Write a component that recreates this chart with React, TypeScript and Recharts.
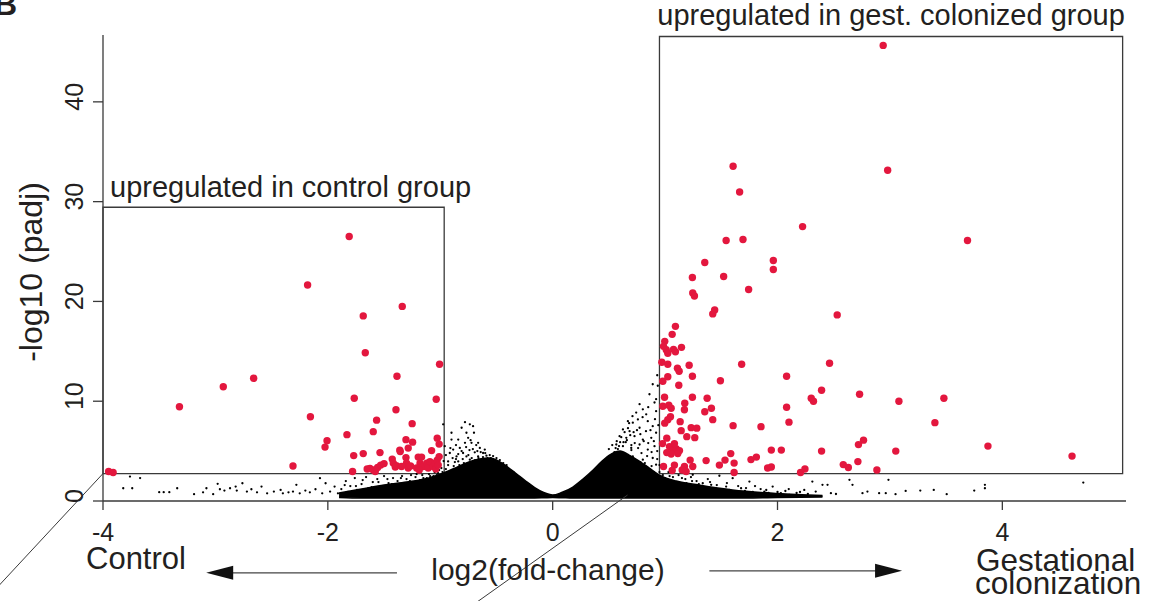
import React from 'react'
import {
  ComposedChart,
  Scatter,
  Area,
  XAxis,
  YAxis,
  ReferenceArea,
  ReferenceLine,
} from 'recharts'

const xTicks = [-4, -2, 0, 2, 4]
const yTicks = [0, 10, 20, 30, 40]

// significant genes, upregulated in control (log2FC, -log10 padj)
const upControl: [number, number][] = [
  [-3.95, 2.95], [-3.91, 2.85], [-3.32, 9.45], [-2.93, 11.45], [-2.66, 12.3], [-2.31, 3.5],
  [-2.18, 21.65], [-2.155, 8.45], [-2.025, 5.4], [-2.007, 6.05], [-1.83, 6.65], [-1.81, 26.5],
  [-1.78, 2.95], [-1.77, 4.55], [-1.765, 10.3], [-1.685, 18.55], [-1.685, 4.75], [-1.667, 14.85],
  [-1.65, 3.2], [-1.625, 3.25], [-1.596, 3.1], [-1.578, 2.95], [-1.557, 3.35], [-1.53, 3.6],
  [-1.5, 3.75], [-1.596, 6.95], [-1.566, 8.1], [-1.536, 4.85], [-1.427, 4.2], [-1.418, 3.8],
  [-1.4, 3.4], [-1.39, 3.55], [-1.394, 9.15], [-1.385, 12.5], [-1.356, 4.95], [-1.338, 19.5],
  [-1.305, 6.15], [-1.285, 5.3], [-1.305, 4.35], [-1.3, 3.8], [-1.285, 3.3], [-1.264, 3.5],
  [-1.25, 7.75], [-1.246, 5.9], [-1.196, 4.4], [-1.166, 4.4], [-1.18, 3.8], [-1.21, 3.3],
  [-1.152, 3.45], [-1.187, 3.1], [-1.12, 3.8], [-1.107, 3.3], [-1.092, 3.95], [-1.077, 5.05],
  [-1.063, 3.45], [-1.048, 3.8], [-1.039, 3.2], [-1.027, 4.1], [-1.018, 3.6], [-1.01, 4.45],
  [-1.036, 10.2], [-1.027, 6.3], [-1.01, 5.7], [-1.006, 13.7], [-1.36, 5.1], [-1.344, 3.45],
]

// significant genes, upregulated in gestational colonization
const upColonized: [number, number][] = [
  [2.94, 45.66], [1.605, 33.55], [2.98, 33.15], [1.663, 30.97], [2.223, 27.5], [1.543, 26.1],
  [1.693, 26.2], [3.69, 26.1], [1.353, 23.9], [1.963, 24.1], [1.963, 23.2], [1.243, 22.4],
  [1.521, 22.5], [1.246, 20.85], [1.261, 20.55], [1.743, 21.2], [1.441, 19.15], [1.424, 18.75],
  [2.531, 18.65], [1.092, 17.5], [1.063, 16.7], [0.997, 16.0], [0.986, 15.5], [1.01, 15.15],
  [1.024, 14.8], [1.075, 15.2], [1.092, 14.95], [1.146, 15.4], [0.971, 13.9], [1.024, 13.7],
  [1.214, 13.6], [1.681, 13.7], [2.463, 13.8], [1.11, 13.3], [1.125, 13.0], [1.024, 12.45],
  [1.243, 12.5], [2.081, 12.5], [0.98, 12.0], [1.492, 12.05], [1.122, 11.6], [2.392, 11.1],
  [2.73, 10.7], [0.995, 10.4], [1.243, 10.4], [1.374, 10.3], [2.3, 10.3], [2.32, 10.0],
  [3.48, 10.3], [3.08, 10.0], [0.98, 9.5], [1.033, 9.6], [1.054, 9.3], [1.175, 9.8],
  [1.172, 9.15], [1.412, 9.3], [1.353, 8.95], [2.081, 9.4], [1.048, 8.45], [1.024, 8.15],
  [0.997, 7.8], [1.424, 8.15], [1.134, 7.95], [2.102, 7.9], [3.4, 7.85], [1.605, 7.55],
  [1.853, 7.45], [1.232, 7.35], [1.282, 7.3], [1.143, 7.05], [1.193, 6.45], [1.264, 6.35],
  [1.015, 6.3], [0.977, 5.75], [2.765, 6.1], [2.72, 5.65], [3.872, 5.5], [1.039, 5.45],
  [1.069, 5.1], [1.098, 5.25], [1.128, 5.05], [1.083, 5.75], [1.113, 4.75], [1.015, 4.85],
  [1.054, 4.7], [2.392, 5.0], [3.052, 5.0], [4.62, 4.5], [1.945, 5.1], [2.034, 5.1],
  [1.223, 4.1], [1.365, 4.05], [1.584, 4.75], [1.533, 4.1], [1.614, 3.8], [1.764, 4.15],
  [1.812, 4.4], [1.483, 3.6], [2.715, 3.95], [2.585, 3.65], [2.63, 3.35], [0.986, 3.45],
  [1.083, 3.6], [1.172, 3.45], [1.246, 3.45], [1.063, 3.05], [1.152, 3.1], [1.187, 2.95],
  [1.912, 3.3], [1.945, 3.4], [2.205, 2.85], [2.244, 3.2], [1.614, 2.85], [2.884, 3.1],
]

// non-significant genes: low band on the left
const nsLeft: [number, number][] = [
  [-3.76, 2.45], [-3.67, 2.3], [-3.82, 1.28], [-3.74, 1.28], [-3.5, 0.88], [-3.46, 0.88],
  [-3.41, 0.88], [-3.34, 1.28], [-3.19, 0.68], [-3.11, 0.87], [-3.08, 1.28], [-3.02, 0.68],
  [-2.98, 1.72], [-2.96, 1.18], [-2.92, 1.04], [-2.87, 1.28], [-2.82, 1.45], [-2.81, 1.04],
  [-2.76, 1.78], [-2.72, 0.94], [-2.68, 1.18], [-2.63, 0.87], [-2.59, 1.45], [-2.54, 0.77],
  [-2.48, 0.94], [-2.42, 1.11], [-2.4, 0.77], [-2.35, 0.87], [-2.31, 0.94], [-2.28, 1.62],
  [-2.25, 0.77], [-2.2, 1.04], [-2.16, 0.87], [-2.11, 1.18], [-2.07, 2.29], [-2.05, 0.77],
  [-2.02, 1.78], [-1.98, 0.94], [-1.94, 1.45], [-1.91, 0.77], [-1.88, 1.2], [-1.86, 0.6],
  [-1.84, 2.0], [-1.82, 0.9], [-1.8, 1.5], [-1.78, 0.7], [-1.76, 2.3], [-1.74, 1.1],
  [-1.72, 0.5], [-1.7, 1.7], [-1.68, 0.9], [-1.66, 2.4], [-1.64, 1.3], [-1.62, 0.6],
  [-1.6, 1.9], [-1.58, 1.0], [-1.56, 2.2], [-1.54, 0.7], [-1.52, 1.5], [-1.5, 2.5],
  [-1.48, 1.2], [-1.46, 1.8], [-1.44, 0.8], [-1.42, 2.3], [-1.4, 1.5], [-1.38, 2.0],
  [-1.36, 1.1], [-1.34, 2.5], [-1.32, 1.7], [-1.3, 2.2], [-1.28, 1.4], [-1.26, 2.6],
  [-1.24, 1.9], [-1.22, 2.4], [-1.2, 1.6], [-1.18, 2.1], [-1.16, 2.6], [-1.14, 1.8],
  [-1.12, 2.3], [-1.1, 2.7], [-1.08, 2.0], [-1.06, 2.5], [-1.04, 2.2], [-1.02, 2.8],
  [-1.0, 2.4], [-0.98, 2.6], [-1.85, 1.6], [-1.75, 1.5], [-1.69, 2.1], [-1.61, 1.4],
  [-1.55, 1.9], [-1.47, 2.2], [-1.43, 1.7], [-1.35, 2.3], [-1.27, 2.0], [-1.21, 2.7],
  [-1.15, 2.3], [-1.09, 2.5], [-1.05, 2.9], [-1.03, 2.6], [-1.01, 3.1],
]

// non-significant genes: scattered dots above the left hump
const nsHumpLeft: [number, number][] = [
  [-0.78, 7.9], [-0.737, 7.68], [-0.81, 7.34], [-0.708, 7.5], [-0.9, 6.84], [-0.767, 6.84],
  [-0.7, 6.84], [-0.84, 6.16], [-0.752, 6.33], [-0.78, 5.83], [-0.722, 5.83], [-0.663, 5.83],
  [-0.826, 5.32], [-0.885, 5.15], [-0.648, 5.32], [-0.604, 5.15], [-0.915, 4.81], [-0.797, 4.81],
  [-0.693, 4.88], [-0.619, 4.81], [-0.855, 4.47], [-0.767, 4.47], [-0.663, 4.47], [-0.589, 4.54],
  [-0.93, 3.97], [-0.84, 3.97], [-0.737, 4.14], [-0.96, 5.49], [-0.974, 7.68], [-0.9, 6.16],
  [-0.95, 3.2], [-0.88, 3.5], [-0.82, 3.3], [-0.76, 3.7], [-0.86, 4.2], [-0.74, 5.1],
  [-0.68, 5.6], [-0.56, 4.6], [-0.55, 4.3], [-0.98, 2.9], [-0.92, 2.7], [-0.87, 2.9],
  [-0.99, 3.3], [-0.97, 4.0], [-0.95, 4.6], [-0.93, 3.6], [-0.91, 5.3], [-0.89, 4.3],
  [-0.87, 3.9], [-0.86, 5.6], [-0.84, 4.7], [-0.83, 3.6], [-0.81, 5.0], [-0.8, 4.2],
  [-0.79, 3.8], [-0.77, 5.4], [-0.75, 4.6], [-0.73, 6.1], [-0.72, 4.3], [-0.71, 5.2],
  [-0.69, 4.1], [-0.67, 5.0], [-0.66, 4.3], [-0.64, 4.9], [-0.62, 4.4], [-0.6, 4.8],
  [-0.58, 4.3], [-0.53, 4.5], [-0.5, 4.3], [-0.47, 4.1], [-0.44, 3.8], [-0.41, 3.6],
  [-0.38, 3.1], [-0.35, 2.9],
]

// non-significant genes: scattered dots above the right hump
const nsHumpRight: [number, number][] = [
  [0.935, 11.55], [0.89, 11.7], [0.861, 10.7], [0.906, 9.87], [0.773, 9.7], [0.802, 9.19],
  [0.743, 8.86], [0.832, 8.69], [0.669, 8.0], [0.713, 7.85], [0.758, 8.18], [0.846, 8.0],
  [0.625, 7.17], [0.684, 7.0], [0.773, 7.34], [0.89, 7.5], [0.595, 6.5], [0.655, 6.33],
  [0.728, 6.5], [0.802, 6.16], [0.877, 6.33], [0.92, 6.84], [0.566, 5.66], [0.625, 5.49],
  [0.699, 5.32], [0.773, 5.66], [0.846, 5.15], [0.906, 5.49], [0.713, 4.47], [0.802, 4.14],
  [0.89, 4.31], [0.773, 3.47], [0.861, 3.13], [0.92, 3.64], [0.93, 12.6], [0.92, 10.2],
  [0.65, 5.9], [0.7, 5.6], [0.58, 5.2], [0.62, 4.8], [0.68, 4.4], [0.75, 4.0],
  [0.82, 3.8], [0.88, 3.5], [0.95, 2.9], [0.66, 3.9], [0.74, 3.3], [0.8, 2.8],
  [0.87, 2.5], [0.93, 2.3], [0.5, 5.2], [0.53, 5.6], [0.55, 4.9], [0.57, 6.0],
  [0.59, 5.5], [0.61, 6.4], [0.63, 5.9], [0.64, 6.9], [0.66, 6.1], [0.67, 7.3],
  [0.69, 6.6], [0.7, 5.1], [0.72, 6.9], [0.73, 5.8], [0.75, 7.1], [0.76, 5.3],
  [0.78, 6.7], [0.79, 4.8], [0.81, 6.0], [0.83, 7.0], [0.84, 4.5], [0.85, 5.8],
  [0.87, 7.1], [0.88, 4.9], [0.9, 6.0], [0.91, 8.2], [0.93, 5.0], [0.94, 7.6],
  [0.92, 9.0], [0.85, 9.4], [0.8, 8.4], [0.71, 8.5], [0.68, 7.8], [0.6, 5.9],
  [0.56, 5.3], [0.95, 3.6], [0.93, 4.2], [0.9, 2.9], [0.84, 3.4], [0.78, 3.9],
  [0.72, 4.2],
]

// non-significant genes: low band on the right
const nsRight: [number, number][] = [
  [1.0, 2.3], [1.02, 1.6], [1.04, 2.5], [1.06, 1.1], [1.08, 2.0], [1.1, 1.4],
  [1.12, 2.6], [1.14, 0.9], [1.16, 1.8], [1.18, 2.2], [1.2, 1.5], [1.22, 0.8],
  [1.24, 2.0], [1.246, 2.63], [1.27, 1.3], [1.3, 1.7], [1.335, 1.78], [1.36, 1.0],
  [1.38, 2.2], [1.41, 1.62], [1.44, 1.2], [1.483, 2.53], [1.51, 0.9], [1.543, 1.45],
  [1.57, 1.1], [1.601, 2.29], [1.63, 0.8], [1.676, 1.28], [1.71, 1.0], [1.75, 1.95],
  [1.78, 0.9], [1.81, 0.78], [1.85, 1.2], [1.883, 0.94], [1.92, 0.8], [1.957, 1.45],
  [2.0, 0.9], [2.03, 0.78], [2.07, 1.0], [2.105, 0.61], [2.17, 0.8], [2.238, 1.11],
  [2.27, 0.7], [2.31, 1.95], [2.34, 0.94], [2.4, 1.62], [2.445, 1.62], [2.475, 0.78],
  [2.52, 0.7], [2.64, 2.12], [2.667, 1.62], [2.756, 0.78], [2.8, 0.94], [2.904, 0.78],
  [2.963, 0.78], [2.987, 2.12], [3.05, 0.68], [3.14, 1.01], [3.27, 1.04], [3.39, 1.11],
  [3.505, 0.68], [3.75, 1.04], [3.845, 1.62], [3.845, 1.28], [4.72, 1.85],
  [0.98, 2.6], [1.01, 2.0], [1.03, 2.9], [1.07, 2.4], [1.11, 1.9], [1.15, 2.3],
  [1.19, 1.8], [1.23, 2.4], [1.28, 2.0], [1.32, 1.5], [1.4, 1.9], [1.46, 1.6],
  [1.55, 1.8], [1.65, 1.5], [1.72, 1.3], [1.8, 1.5], [1.9, 1.1], [2.1, 1.2], [2.2, 0.9],
]

// saturated core of the volcano (thousands of overlapping dots): x, lower, upper
const coreX = [-1.9, -1.7, -1.5, -1.3, -1.1, -0.95, -0.85, -0.75, -0.65, -0.56, -0.48, -0.4, -0.32, -0.24, -0.16, -0.08, 0, 0.08, 0.18, 0.27, 0.36, 0.44, 0.52, 0.6, 0.68, 0.77, 0.86, 0.95, 1.1, 1.3, 1.6, 2.0, 2.4]
const coreLow = [0.35, 0.3, 0.3, 0.3, 0.3, 0.3, 0.3, 0.3, 0.3, 0.3, 0.3, 0.3, 0.3, 0.3, 0.3, 0.32, 0.35, 0.33, 0.3, 0.3, 0.3, 0.3, 0.3, 0.3, 0.3, 0.3, 0.3, 0.3, 0.3, 0.3, 0.3, 0.35, 0.4]
const coreHigh = [0.8, 1.2, 1.6, 1.9, 2.3, 2.9, 3.4, 3.9, 4.2, 4.3, 4.0, 3.4, 2.7, 2.0, 1.35, 0.85, 0.6, 0.85, 1.4, 2.2, 3.1, 4.0, 4.7, 5.0, 4.6, 4.0, 3.3, 2.6, 2.0, 1.6, 1.1, 0.75, 0.55]

const toPts = (a: [number, number][]) => a.map(([x, y]) => ({ x, y }))
const coreData = coreX.map((x, i) => ({ x, band: [coreLow[i], coreHigh[i]] }))

const INK = '#231f20'
const LINE = '#3a3a3a'
const RED = '#e3173e'
const FONT = '"Liberation Sans", Arial, Helvetica, sans-serif'

const BlackDot = (p: any) => <circle cx={p.cx} cy={p.cy} r={1.15} fill="#000" />
const RedDot = (p: any) => <circle cx={p.cx} cy={p.cy} r={3.7} fill={RED} />

const XTick = (p: any) => (
  <text x={p.x} y={p.y + 29} textAnchor="middle" fontSize={25} fill={INK}>
    {p.payload.value}
  </text>
)

const YTick = (p: any) => {
  const y = p.y - 5
  return (
    <text x={p.x} y={y} transform={`rotate(-90 ${p.x} ${y})`} textAnchor="middle" fontSize={25} fill={INK}>
      {p.payload.value}
    </text>
  )
}

const Arrow = (p: any) => {
  const { x1, y1, x2, y2 } = p
  const d = Math.sign(x2 - x1)
  return (
    <g>
      <line x1={x1} y1={y1} x2={x2 - d * 20} y2={y2} stroke="#444" strokeWidth={1.2} />
      <polygon points={`${x2},${y2} ${x2 - d * 27},${y2 - 7} ${x2 - d * 27},${y2 + 7}`} fill="#111" />
    </g>
  )
}

const XTitle = ({ viewBox }: any) => {
  const { x, y } = viewBox
  return (
    <g fill={INK}>
      <text x={x - 17} y={y + 68} fontSize={31}>Control</text>
      <text x={x + 445} y={y + 79} fontSize={30} textAnchor="middle">log2(fold-change)</text>
      <text x={x + 873} y={y + 70} fontSize={31.5}>Gestational</text>
      <text x={x + 872} y={y + 93} fontSize={31.5}>colonization</text>
    </g>
  )
}

const YTitle = ({ viewBox }: any) => {
  const cy = viewBox.y + viewBox.height / 2 + 4
  const cx = viewBox.x + 42
  return (
    <g fill={INK}>
      <text x={cx} y={cy} transform={`rotate(-90 ${cx} ${cy})`} textAnchor="middle" fontSize={32}>
        -log10 (padj)
      </text>
      <text x={viewBox.x - 6} y={viewBox.y - 20} fontSize={32} fontWeight="bold">B</text>
    </g>
  )
}

const BoxTitle = (dx: number, dy: number, text: string, anchor: 'start' | 'middle') =>
  ({ viewBox }: any) => (
    <text
      x={anchor === 'start' ? viewBox.x + dx : viewBox.x + viewBox.width / 2 + dx}
      y={viewBox.y - dy}
      textAnchor={anchor}
      fontSize={29}
      fill={INK}
    >
      {text}
    </text>
  )

export default function App() {
  return (
    <div style={{ position: 'absolute', left: 0, top: 0, fontFamily: FONT, background: '#fff' }}>
      <ComposedChart width={1155} height={601} margin={{ top: 35, right: 29, left: 0, bottom: 0 }}>
        <XAxis
          type="number"
          dataKey="x"
          domain={[-4, 5.1]}
          ticks={xTicks}
          allowDataOverflow
          height={100}
          stroke={LINE}
          strokeWidth={1.3}
          tickSize={9}
          tick={XTick}
          label={XTitle}
        />
        <YAxis
          type="number"
          dataKey="y"
          domain={[0, 46.7]}
          ticks={yTicks}
          allowDataOverflow
          width={103}
          stroke={LINE}
          strokeWidth={1.3}
          tickSize={10}
          tickMargin={10}
          tick={YTick}
          label={YTitle}
        />
        <ReferenceArea
          x1={-4}
          x2={-0.965}
          y1={2.75}
          y2={29.44}
          fill="none"
          stroke={LINE}
          strokeWidth={1.3}
          label={BoxTitle(7, 10, 'upregulated in control group', 'start')}
        />
        <ReferenceArea
          x1={0.95}
          x2={5.07}
          y1={2.75}
          y2={46.55}
          fill="none"
          stroke={LINE}
          strokeWidth={1.3}
          label={BoxTitle(0, 12, 'upregulated in gest. colonized group', 'middle')}
        />
        <Area
          data={coreData}
          dataKey="band"
          type="monotone"
          fill="#000"
          fillOpacity={1}
          stroke="#000"
          strokeWidth={1.5}
          isAnimationActive={false}
        />
        <Scatter data={toPts(nsLeft)} dataKey="y" shape={BlackDot} isAnimationActive={false} />
        <Scatter data={toPts(nsHumpLeft)} dataKey="y" shape={BlackDot} isAnimationActive={false} />
        <Scatter data={toPts(nsHumpRight)} dataKey="y" shape={BlackDot} isAnimationActive={false} />
        <Scatter data={toPts(nsRight)} dataKey="y" shape={BlackDot} isAnimationActive={false} />
        <Scatter data={toPts(upControl)} dataKey="y" shape={RedDot} isAnimationActive={false} />
        <Scatter data={toPts(upColonized)} dataKey="y" shape={RedDot} isAnimationActive={false} />
        <ReferenceLine
          segment={[{ x: -4, y: 2.75 }, { x: -5.2, y: -11.8 }]}
          stroke={LINE}
          strokeWidth={1}
          ifOverflow="visible"
        />
        <ReferenceLine
          segment={[{ x: 0.666, y: 0.6 }, { x: -0.67, y: -10.1 }]}
          stroke={LINE}
          strokeWidth={1}
          ifOverflow="visible"
        />
        <ReferenceLine
          segment={[{ x: -1.385, y: -7.2 }, { x: -3.082, y: -7.2 }]}
          ifOverflow="visible"
          shape={Arrow}
        />
        <ReferenceLine
          segment={[{ x: 1.394, y: -7.0 }, { x: 3.108, y: -7.0 }]}
          ifOverflow="visible"
          shape={Arrow}
        />
      </ComposedChart>
    </div>
  )
}
